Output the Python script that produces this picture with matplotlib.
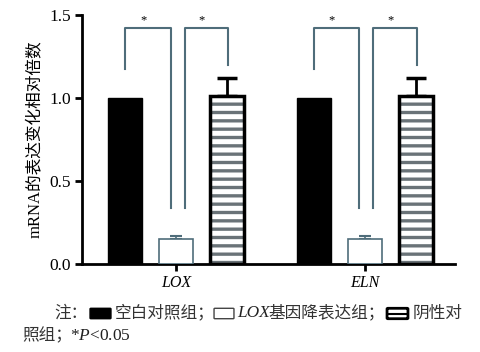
import matplotlib
matplotlib.use("Agg")
import matplotlib.pyplot as plt
from matplotlib.patches import FancyBboxPatch
import numpy as np

genes = ["LOX", "ELN"]
groups = ["空白对照组", "LOX基因降表达组", "阴性对照组"]
blank = [1.0, 1.0]
knock = [0.15, 0.15]
knock_err = [0.02, 0.02]
neg = [1.01, 1.01]
neg_err = [0.11, 0.11]
yticks = [0.0, 0.5, 1.0, 1.5]
ytick_labels = ["0.0", "0.5", "1.0", "1.5"]

plt.rcParams["mathtext.fontset"] = "custom"
plt.rcParams["mathtext.rm"] = "Liberation Serif"
plt.rcParams["mathtext.it"] = "Liberation Serif:italic"

SERIF = ["Liberation Serif", "Noto Sans CJK SC"]
CJK = ["Noto Sans CJK SC", "Liberation Serif"]
BR = "#4f6d7a"

fig = plt.figure(figsize=(4.8, 3.52), dpi=100)
ax = fig.add_axes([0.171, 0.25, 0.777, 0.707])

x = np.arange(len(genes))
sp = 0.271
w = 0.18

ax.bar(x - sp, blank, w, color="black", edgecolor="black", lw=1.0, zorder=3)
ax.bar(x, knock, w, color="white", edgecolor=BR, lw=1.2, zorder=3)
ax.errorbar(x, knock, yerr=[[0, 0], knock_err], fmt="none", ecolor=BR,
            elinewidth=1.2, capsize=4, capthick=1.5, zorder=2)
plt.rcParams["hatch.linewidth"] = 2.4
ax.bar(x + sp, neg, w, color="white", edgecolor="#6a7378", lw=0, hatch="--", zorder=3)
ax.bar(x + sp, neg, w, fill=False, edgecolor="black", lw=2.5, zorder=4)
ax.errorbar(x + sp, neg, yerr=[[0, 0], neg_err], fmt="none", ecolor="black",
            elinewidth=2.0, capsize=7, capthick=2.5, zorder=2)

# significance brackets
for xi in x:
    ax.plot([xi - sp, xi - sp, xi - 0.03, xi - 0.03], [1.175, 1.42, 1.42, 0.34],
            color=BR, lw=1.5, zorder=2)
    ax.plot([xi + 0.045, xi + 0.045, xi + sp + 0.005, xi + sp + 0.005], [0.34, 1.42, 1.42, 1.2],
            color=BR, lw=1.5, zorder=2)
    ax.text(xi - sp / 2 - 0.04, 1.47, "*", ha="center", va="center", fontsize=9, family=SERIF)
    ax.text(xi + sp / 2 + 0.0, 1.47, "*", ha="center", va="center", fontsize=9, family=SERIF)

ax.set_xlim(-0.5, 1.48)
ax.set_ylim(0, 1.5)
ax.set_yticks(yticks)
ax.set_yticklabels(ytick_labels, family=SERIF, fontsize=12.5)
ax.set_xticks(x)
ax.set_xticklabels([])
for xi, g in zip(x, genes):
    ax.text(xi, -0.115, g, ha="center", va="center", fontsize=11.5, style="italic",
            family=SERIF, transform=ax.transData)
ax.tick_params(axis="both", direction="out", width=2, length=5, color="black", pad=3)
for s in ["top", "right"]:
    ax.spines[s].set_visible(False)
for s in ["left", "bottom"]:
    ax.spines[s].set_linewidth(2)
ax.set_ylabel("mRNA的表达变化相对倍数", family=SERIF, fontsize=12, labelpad=4)

# caption
def fx(px):
    return px / 480.0
def fy(py):
    return 1 - py / 352.0

FS = 12
y1 = 313
fig.text(fx(54), fy(y1), "注：", family=CJK, fontsize=FS, va="center", color="#333333")
fig.patches.append(FancyBboxPatch((fx(91), fy(318)), fx(19), 9 / 352.0,
                                  boxstyle="round,pad=0.002", transform=fig.transFigure,
                                  facecolor="black", edgecolor="black", lw=1))
fig.text(fx(115), fy(y1), "空白对照组；", family=CJK, fontsize=FS, va="center", color="#333333")
fig.patches.append(FancyBboxPatch((fx(215), fy(318)), fx(18), 9 / 352.0,
                                  boxstyle="round,pad=0.002", transform=fig.transFigure,
                                  facecolor="white", edgecolor="#444444", lw=1))
fig.text(fx(237), fy(y1), "LOX", family=SERIF, style="italic", fontsize=12.5, va="center", color="#222222")
fig.text(fx(268), fy(y1), "基因降表达组；", family=CJK, fontsize=FS, va="center", color="#333333")
fig.patches.append(FancyBboxPatch((fx(388), fy(318)), fx(19), 9 / 352.0,
                                  boxstyle="round,pad=0.002", transform=fig.transFigure,
                                  facecolor="white", edgecolor="black", lw=2))
fig.lines.append(plt.Line2D([fx(389), fx(406)], [fy(313.5), fy(313.5)],
                            transform=fig.transFigure, color="black", lw=1.5))
fig.text(fx(413), fy(y1), "阴性对", family=CJK, fontsize=FS, va="center", color="#333333")

y2 = 336
fig.text(fx(22), fy(y2), "照组；", family=CJK, fontsize=FS, va="center", color="#333333")
fig.text(fx(70), fy(y2), "*$P$<0.05", family=SERIF, fontsize=12.5, va="center", color="#222222")

fig.savefig("out.png", dpi=100)
